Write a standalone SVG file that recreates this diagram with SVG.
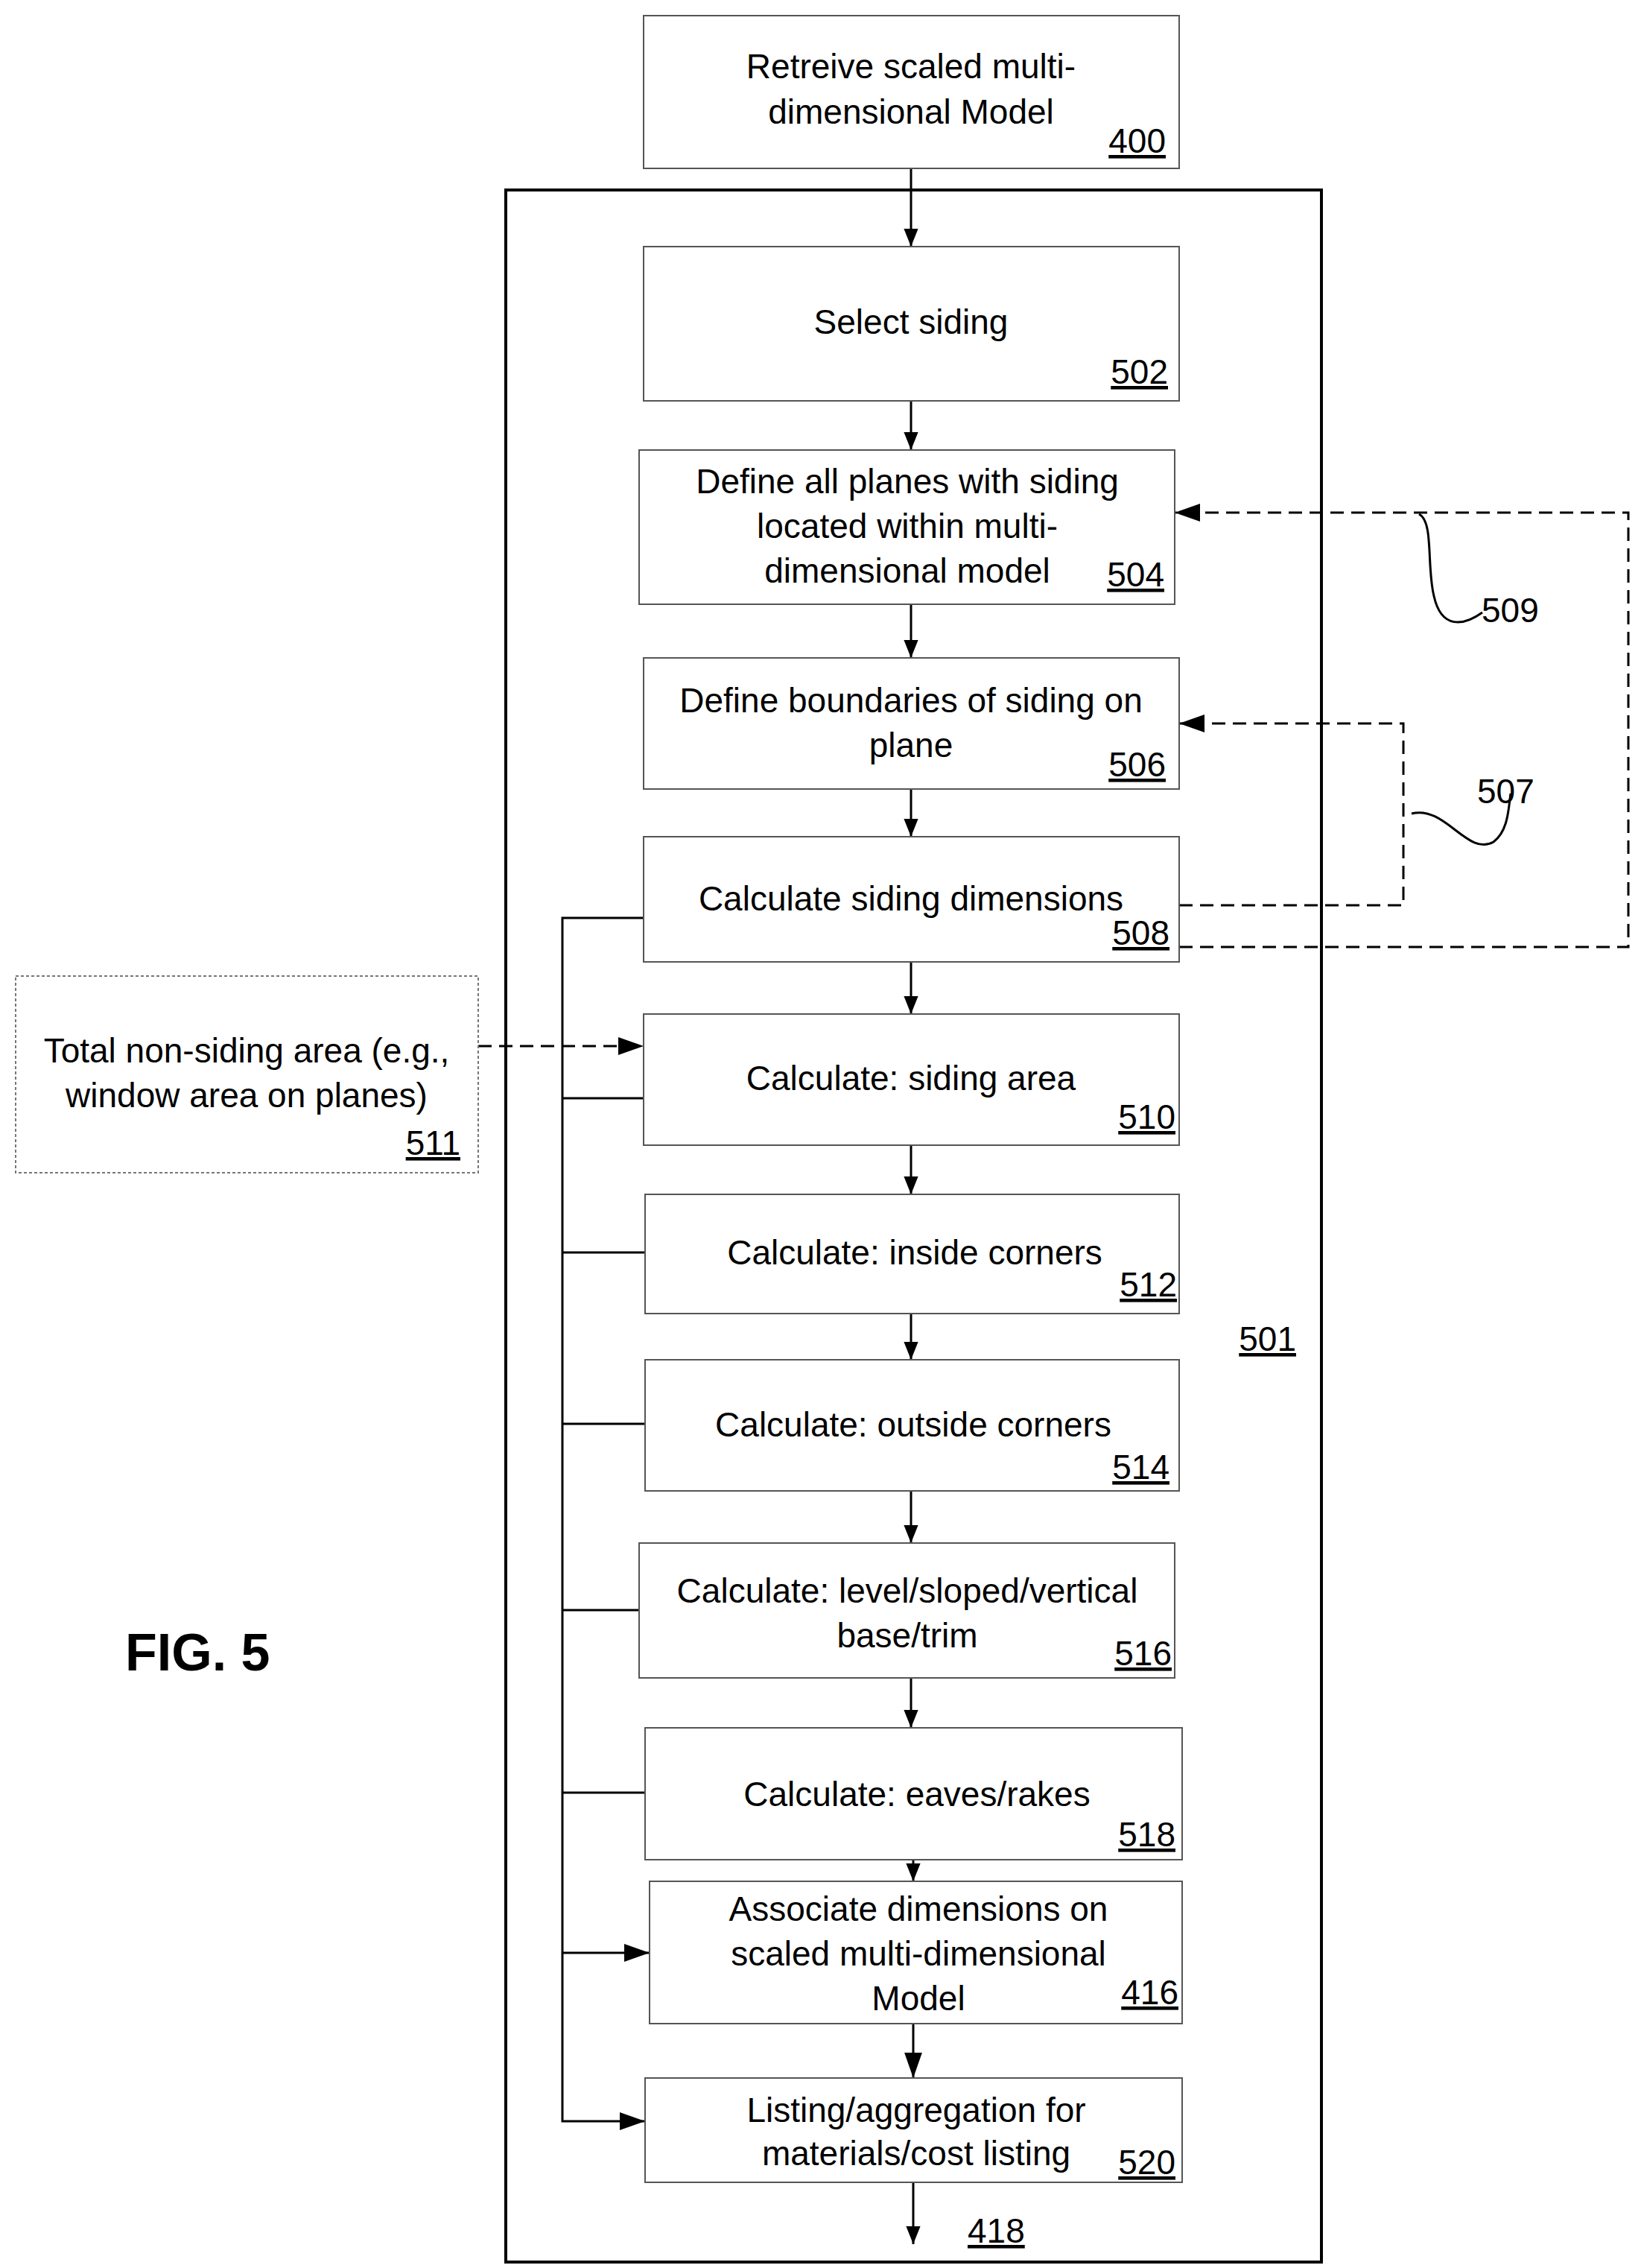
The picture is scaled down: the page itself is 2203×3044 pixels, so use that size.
<svg xmlns="http://www.w3.org/2000/svg" width="2203" height="3044" viewBox="0 0 2203 3044">
<style>
.b{fill:#fff;stroke:#555;stroke-width:2}
text{font-family:"Liberation Sans",Arial,sans-serif;font-size:46px;fill:#000}
.m{text-anchor:middle}
.r{text-anchor:end;text-decoration:underline}
.l{stroke:#000;stroke-width:3;fill:none}
.d{stroke:#000;stroke-width:3;fill:none;stroke-dasharray:18 10}
</style>
<defs><marker id="A" viewBox="0 0 10 10" refX="10" refY="5" markerWidth="24" markerHeight="24" markerUnits="userSpaceOnUse" orient="auto"><path d="M0,1L10,5L0,9z" fill="#000"/></marker>
<marker id="B" viewBox="0 0 10 10" refX="10" refY="5" markerWidth="34" markerHeight="34" markerUnits="userSpaceOnUse" orient="auto"><path d="M0,1.5L10,5L0,8.5z" fill="#000"/></marker></defs>
<rect x="679" y="255" width="1095" height="2781" fill="none" stroke="#000" stroke-width="4"/>
<g id="connectors">
<path class="l" d="M1223 226V331" marker-end="url(#A)"/>
<path class="l" d="M1223 538V604" marker-end="url(#A)"/>
<path class="l" d="M1223 811V883" marker-end="url(#A)"/>
<path class="l" d="M1223 1059V1123" marker-end="url(#A)"/>
<path class="l" d="M1223 1291V1361" marker-end="url(#A)"/>
<path class="l" d="M1223 1537V1603" marker-end="url(#A)"/>
<path class="l" d="M1223 1763V1825" marker-end="url(#A)"/>
<path class="l" d="M1223 2001V2071" marker-end="url(#A)"/>
<path class="l" d="M1223 2252V2319" marker-end="url(#A)"/>
<path class="l" d="M1226 2496V2525" marker-end="url(#A)"/>
<path class="l" stroke-width="4" d="M1226 2716V2789" marker-end="url(#B)"/>
<path class="l" d="M1226 2929V3012" marker-end="url(#A)"/>
<path class="l" stroke-width="4" d="M864 1232H755V2847H866" marker-end="url(#B)"/>
<path class="l" d="M755 1474H864M755 1681H866M755 1911H866M755 2161H858M755 2406H866"/>
<path class="l" stroke-width="4" d="M755 2621H872" marker-end="url(#B)"/>
<path class="d" d="M642 1404H864" marker-end="url(#B)"/>
<path class="d" d="M1583 1271H2186V688H1577" marker-end="url(#B)"/>
<path class="d" d="M1583 1215H1884V971H1583" marker-end="url(#B)"/>
<path class="l" stroke-width="2.5" d="M1905 690C1925 700 1915 760 1925 800C1935 845 1965 840 1990 822"/>
<path class="l" stroke-width="2.5" d="M1895 1092C1940 1080 1970 1150 2005 1130C2025 1115 2025 1085 2028 1065"/>
</g>
<g id="n400"><rect class="b" x="864" y="21" width="719" height="205"/><text class="m" x="1223" y="105">Retreive scaled multi-</text><text class="m" x="1223" y="166">dimensional Model</text><text class="r" x="1565" y="205">400</text></g>
<g id="n502"><rect class="b" x="864" y="331" width="719" height="207"/><text class="m" x="1223" y="448">Select siding</text><text class="r" x="1568" y="515">502</text></g>
<g id="n504"><rect class="b" x="858" y="604" width="719" height="207"/><text class="m" x="1218" y="662">Define all planes with siding</text><text class="m" x="1218" y="722">located within multi-</text><text class="m" x="1218" y="782">dimensional model</text><text class="r" x="1563" y="787">504</text></g>
<g id="n506"><rect class="b" x="864" y="883" width="719" height="176"/><text class="m" x="1223" y="956">Define boundaries of siding on</text><text class="m" x="1223" y="1016">plane</text><text class="r" x="1565" y="1042">506</text></g>
<g id="n508"><rect class="b" x="864" y="1123" width="719" height="168"/><text class="m" x="1223" y="1222">Calculate siding dimensions</text><text class="r" x="1570" y="1268">508</text></g>
<g id="n510"><rect class="b" x="864" y="1361" width="719" height="176"/><text class="m" x="1223" y="1463">Calculate: siding area</text><text class="r" x="1578" y="1515">510</text></g>
<g id="n512"><rect class="b" x="866" y="1603" width="717" height="160"/><text class="m" x="1228" y="1697">Calculate: inside corners</text><text class="r" x="1580" y="1740">512</text></g>
<g id="n514"><rect class="b" x="866" y="1825" width="717" height="176"/><text class="m" x="1226" y="1928">Calculate: outside corners</text><text class="r" x="1570" y="1985">514</text></g>
<g id="n516"><rect class="b" x="858" y="2071" width="719" height="181"/><text class="m" x="1218" y="2151">Calculate: level/sloped/vertical</text><text class="m" x="1218" y="2211">base/trim</text><text class="r" x="1573" y="2235">516</text></g>
<g id="n518"><rect class="b" x="866" y="2319" width="721" height="177"/><text class="m" x="1231" y="2424">Calculate: eaves/rakes</text><text class="r" x="1578" y="2478">518</text></g>
<g id="n416"><rect class="b" x="872" y="2525" width="715" height="191"/><text class="m" x="1233" y="2578">Associate dimensions on</text><text class="m" x="1233" y="2638">scaled multi-dimensional</text><text class="m" x="1233" y="2698">Model</text><text class="r" x="1582" y="2690">416</text></g>
<g id="n520"><rect class="b" x="866" y="2789" width="721" height="140"/><text class="m" x="1230" y="2848">Listing/aggregation for</text><text class="m" x="1230" y="2906">materials/cost listing</text><text class="r" x="1578" y="2918">520</text></g>
<g id="n511"><rect x="21" y="1310" width="621" height="264" fill="#fff" stroke="#777" stroke-width="2" stroke-dasharray="4 3"/><text class="m" x="331" y="1426">Total non-siding area (e.g.,</text><text class="m" x="331" y="1486">window area on planes)</text><text class="r" x="618" y="1550">511</text></g>
<text x="1989" y="835">509</text>
<text x="1983" y="1078">507</text>
<text class="r" x="1740" y="1813">501</text>
<text x="1299" y="3010" style="text-decoration:underline">418</text>
<text x="168" y="2242" style="font-size:70px;font-weight:bold">FIG. 5</text>
</svg>
